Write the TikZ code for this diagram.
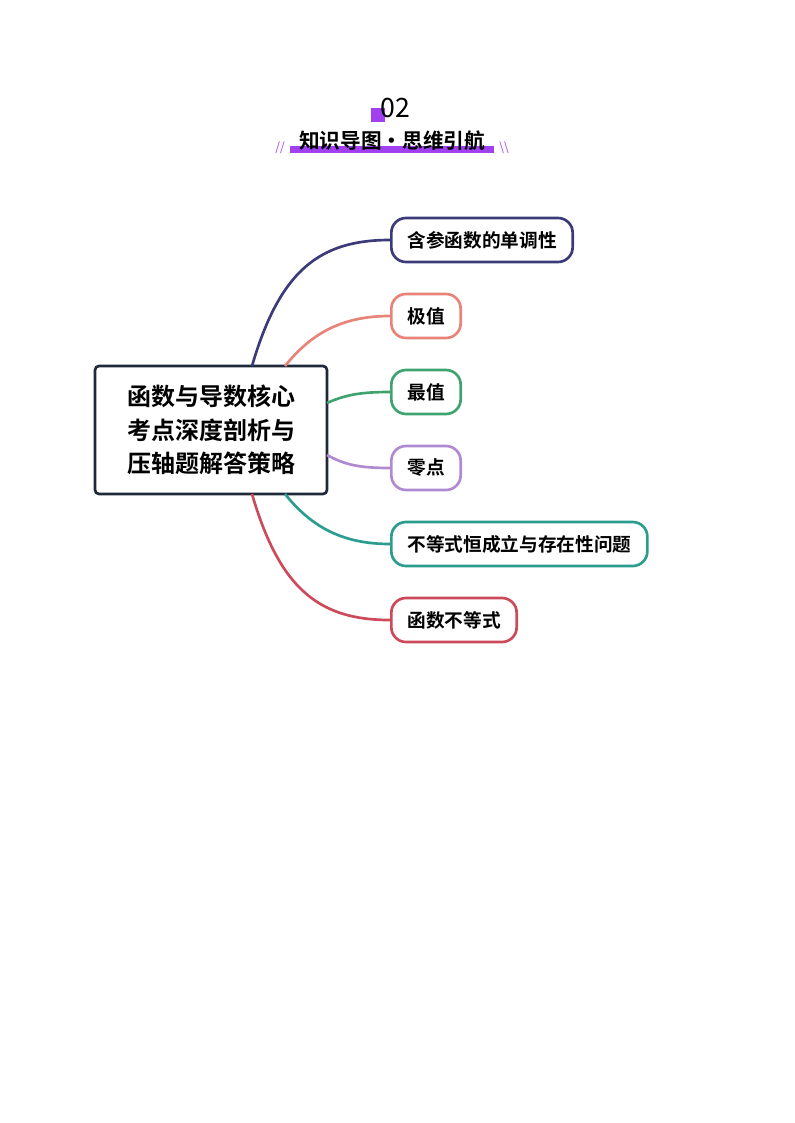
\documentclass[tikz,border=0pt]{standalone}
\usepackage{fontspec}
\newfontfamily\cjk{Noto Sans CJK SC}
\newfontfamily\cjkb{Noto Sans CJK SC Bold}
\definecolor{cA}{HTML}{3B3B7A}
\definecolor{cB}{HTML}{E8837A}
\definecolor{cC}{HTML}{3FA36F}
\definecolor{cD}{HTML}{B08AD0}
\definecolor{cE}{HTML}{2A9D8F}
\definecolor{cF}{HTML}{CC4A5A}
\definecolor{rootc}{HTML}{1E2A3A}
\definecolor{purp}{HTML}{A040F0}
\tikzset{
 leaf/.style={draw=#1, line width=2pt, rounded corners=11pt, minimum height=33pt, anchor=west, inner xsep=12pt, font=\cjkb\fontsize{14}{16}\selectfont, text=black},
 link/.style={draw=#1, line width=2pt},
}
\begin{document}
\begin{tikzpicture}[x=0.75pt,y=-0.75pt]
\useasboundingbox (0,0) rectangle (794,1123);
% header
\fill[purp] (371,108) rectangle (385,122);
\node[font=\cjk\fontsize{20}{22}\selectfont] (num) at (395,108) {02};
\fill[purp] (290,146) rectangle (494,153);
\node[font=\cjkb\fontsize{15.5}{17}\selectfont] (title) at (392,141) {知识导图·思维引航};
\node[text=purp, font=\cjk\fontsize{9}{10}\selectfont] (s1) at (280,148) {//};
\node[text=purp, font=\cjk\fontsize{9}{10}\selectfont] (s2) at (504,148) {\textbackslash\textbackslash};
% root
\node[draw=rootc, line width=2pt, rounded corners=3pt, minimum width=174pt, minimum height=96pt, align=center, font=\cjkb\fontsize{18}{25}\selectfont] (root) at (211,430) {函数与导数核心\\考点深度剖析与\\压轴题解答策略};
% leaves
\node[leaf=cA] (a) at (390,240) {含参函数的单调性};
\node[leaf=cB] (b) at (390,316) {极值};
\node[leaf=cC] (c) at (390,392) {最值};
\node[leaf=cD] (d) at (390,468) {零点};
\node[leaf=cE] (e) at (390,544) {不等式恒成立与存在性问题};
\node[leaf=cF] (f) at (390,620) {函数不等式};
% links
\coordinate (pa) at (252,366);
\coordinate (pb) at (285,366);
\coordinate (pc) at (327,403);
\coordinate (pd) at (327,455);
\coordinate (pe) at (285,494);
\coordinate (pf) at (252,494);
\draw[link=cA] (pa) .. controls (280,270) and (320,240) .. (a.west);
\draw[link=cB] (pb) .. controls (310,335) and (340,316) .. (b.west);
\draw[link=cC] (pc) .. controls (345,395) and (360,392) .. (c.west);
\draw[link=cD] (pd) .. controls (345,465) and (360,468) .. (d.west);
\draw[link=cE] (pe) .. controls (310,525) and (340,544) .. (e.west);
\draw[link=cF] (pf) .. controls (280,590) and (320,620) .. (f.west);
\end{tikzpicture}
\end{document}
